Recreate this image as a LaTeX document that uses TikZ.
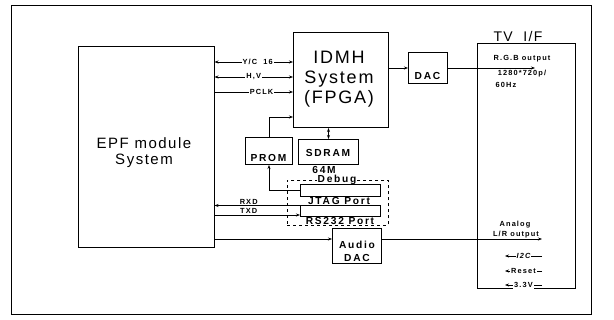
\documentclass[tikz,border=0pt]{standalone}
\usepackage{fontspec}
\setmainfont{Liberation Sans}
\newfontfamily\bigfont[LetterSpace=10]{Liberation Sans}
\newfontfamily\boxfont[LetterSpace=17]{Liberation Sans}
\newfontfamily\smlfont[LetterSpace=15]{Liberation Sans}
\usetikzlibrary{arrows.meta}
\begin{document}
\begin{tikzpicture}[x=1pt,y=-1pt,>={Stealth[length=4pt,width=3pt]},
  blk/.style={draw,line width=1pt,inner sep=0,anchor=north west},
  sig/.style={line width=.8pt},
  boxtxt/.style={font=\boxfont\bfseries\fontsize{10.2}{11}\selectfont,inner sep=0},
  smltxt/.style={font=\smlfont\bfseries\fontsize{7.4}{8}\selectfont,inner sep=1pt},
  online/.style={smltxt,fill=white}]
\useasboundingbox (0,0) rectangle (614,320);
\draw[line width=1pt](11,6) rectangle (591,315);

% blocks
\node[blk,minimum width=136,minimum height=201](epf) at (77.5,46){};
\node[font=\bigfont\fontsize{15}{16}\selectfont,align=center](epftxt) at (144,153){EPF module\\System};
\node[blk,minimum width=95,minimum height=95](idmh) at (293,32){};
\node[font=\bigfont\fontsize{18}{20}\selectfont,align=center](idmhtxt) at (339,79){IDMH\\System\\(FPGA)};
\node[blk,minimum width=39,minimum height=31](dac) at (408,52){};
\node[boxtxt](dactxt) at (427.5,76){DAC};
\node[blk,minimum width=98,minimum height=245](tv) at (477,43){};
\node[font=\bigfont\fontsize{14}{15}\selectfont,anchor=base,inner sep=0](tvtxt) at (518,42){TV\ \ I/F};
\node[blk,minimum width=47,minimum height=27](prom) at (245,137){};
\node[boxtxt](promtxt) at (268.5,158){PROM};
\node[blk,minimum width=60,minimum height=25](sdram) at (298,139){};
\node[boxtxt](sdramtxt) at (328,153){SDRAM};
\node[boxtxt](sdramsize) at (324,169.5){64M};
\node[blk,dashed,line width=.6pt,minimum width=101,minimum height=45](debug) at (287,180){};
\node[boxtxt,fill=white,inner sep=1pt](debugtxt) at (337,180){Debug};
\node[blk,minimum width=80,minimum height=12](jtag) at (300,184){};
\node[boxtxt](jtagtxt) at (339,201){JTAG Port};
\node[blk,minimum width=80,minimum height=11](rs232) at (300,205){};
\node[boxtxt](rs232txt) at (340,220.5){RS232 Port};
\node[blk,minimum width=49,minimum height=35](audio) at (332,228){};
\node[boxtxt,align=center](audiotxt) at (357,251.5){Audio\\[1.5pt]DAC};

% TV I/F texts
\node[smltxt](rgbtxt) at (522,59){R.G.B output};
\node[smltxt](restxt) at (522,74){1280*720p/};
\node[smltxt](hztxt) at (506,85){60Hz};
\node[smltxt](analogtxt) at (515,225){Analog};
\node[smltxt](lrtxt) at (516,235){L/R output};

% signals
\draw[sig,<->](epf.east |- 0,62)--node[online,pos=.55]{Y/C\ \ 16}(idmh.west |- 0,62);
\draw[sig,<->](epf.east |- 0,77)--node[online,pos=.5]{H,V}(idmh.west |- 0,77);
\draw[sig,->](epf.east |- 0,92)--node[online,pos=.6]{PCLK}(idmh.west |- 0,92);
\draw[sig,->](idmh.east |- dac.west)--(dac.west);
\coordinate (rgbend) at (535,68);
\draw[sig,->](dac.east)--(rgbend);
\draw[sig,->](prom.north)|-(idmh.west |- 0,117);
\draw[sig,<->](sdram.north)--(sdram.north |- idmh.south);
\draw[sig,->](jtag.west)-|(prom.south);
\draw[sig,->]([yshift=5.5pt]rs232.west)--node[smltxt,above,pos=.6]{RXD}([yshift=5.5pt]rs232.west -| epf.east);
\draw[sig,->]([yshift=-4pt]rs232.west -| epf.east)--node[smltxt,above,pos=.4]{TXD}([yshift=-4pt]rs232.west);
\draw[sig,->](epf.east |- 0,239)--(audio.west |- 0,239);
\coordinate (lrend) at (542,239);
\draw[sig,->](audio.east |- lrend)--(lrend);

\coordinate (i2cR) at (542,256);
\coordinate (i2cL) at (505,256);
\draw[sig,->](i2cR)--node[online]{\itshape I2C}(i2cL);
\coordinate (rstR) at (542,271);
\coordinate (rstL) at (505,271);
\draw[sig,->](rstR)--node[online]{Reset}(rstL);
\coordinate (pwrR) at (542,285);
\coordinate (pwrL) at (505,285);
\draw[sig,->](pwrR)--node[online]{3.3V}(pwrL);
\end{tikzpicture}
\end{document}
